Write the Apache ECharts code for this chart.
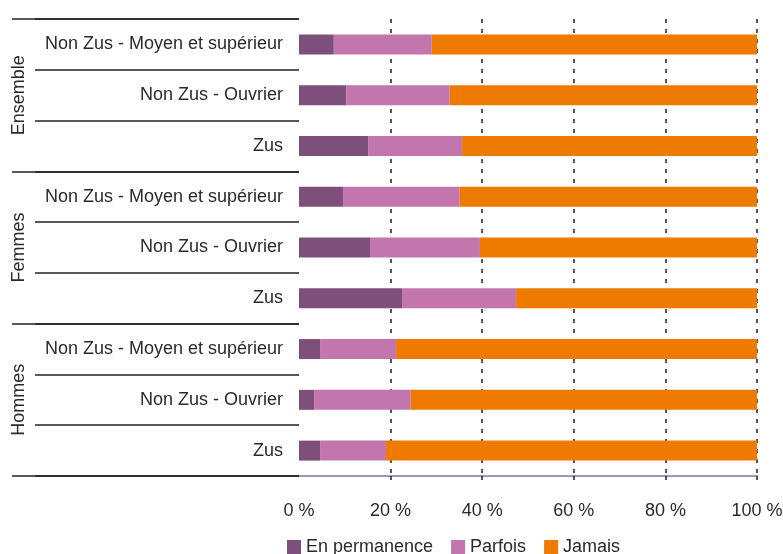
<!DOCTYPE html>
<html>
<head>
<meta charset="utf-8">
<script src="https://cdn.jsdelivr.net/npm/echarts@6/dist/echarts.min.js"></script>
<style>
  html, body { margin: 0; padding: 0; background: #fff; }
  #chart { width: 783px; height: 554px; }
</style>
</head>
<body>
<div id="chart"></div>
<script>
// rows, top to bottom
var rowLabels = [
    "Non Zus - Moyen et supérieur", "Non Zus - Ouvrier", "Zus",
    "Non Zus - Moyen et supérieur", "Non Zus - Ouvrier", "Zus",
    "Non Zus - Moyen et supérieur", "Non Zus - Ouvrier", "Zus"
];
var groupLabels = ["Ensemble", "Femmes", "Hommes"];
var seriesNames = ["En permanence", "Parfois", "Jamais"];

// values in %
var enPermanence = [7.6, 10.3, 15.1, 9.6, 15.5, 22.5, 4.6, 3.3, 4.6];
var parfois = [21.4, 22.6, 20.5, 25.5, 24.0, 24.9, 16.6, 21.1, 14.4];
var jamais = [71.0, 67.1, 64.4, 64.9, 60.5, 52.6, 78.8, 75.6, 81.0];

var xTicks = [20, 40, 60, 80, 100];
var colors = ["#7f4f7b", "#c276ad", "#ee7a00"];

var font = "Liberation Sans";
var textColor = "#2a2a2a";
var dash = { color: "#1e1e1e", width: 1.5, type: [4, 6] };

var chart = echarts.init(document.getElementById("chart"));

var option = {
    animation: false,
    color: colors,
    textStyle: { fontFamily: font },
    grid: {
        left: 299, right: 26, top: 19, bottom: 78,
        containLabel: false,
        outerBoundsMode: "none"
    },
    legend: {
        data: seriesNames,
        left: 282,
        top: 533,
        icon: "rect",
        itemWidth: 14,
        itemHeight: 14,
        itemGap: 18,
        textStyle: { fontSize: 18, color: textColor, fontFamily: font }
    },
    xAxis: {
        type: "value",
        min: 0,
        max: 100,
        interval: 20,
        axisLine: { show: true, lineStyle: { color: "#a292c6", width: 2 } },
        axisTick: { show: true, length: 8, customValues: xTicks, lineStyle: dash },
        axisLabel: {
            margin: 26,
            fontSize: 18,
            color: textColor,
            fontFamily: font,
            formatter: "{value} %"
        },
        splitLine: { show: true, lineStyle: dash }
    },
    yAxis: [
        {
            type: "category",
            inverse: true,
            data: rowLabels,
            axisLine: { show: false },
            axisTick: { show: true, length: 264, lineStyle: { color: "#222", width: 1.6 } },
            axisLabel: { margin: 16, fontSize: 18, color: textColor, fontFamily: font },
            splitLine: { show: false }
        },
        {
            type: "category",
            inverse: true,
            position: "left",
            data: groupLabels,
            axisLine: { show: false },
            axisTick: { show: true, length: 287, lineStyle: { color: "#222", width: 1.6 } },
            axisLabel: { rotate: 90, margin: 271, fontSize: 18, color: textColor, fontFamily: font },
            splitLine: { show: false }
        }
    ],
    series: [
        { name: seriesNames[0], type: "bar", stack: "total", barWidth: 20, data: enPermanence },
        { name: seriesNames[1], type: "bar", stack: "total", barWidth: 20, data: parfois },
        { name: seriesNames[2], type: "bar", stack: "total", barWidth: 20, data: jamais }
    ]
};

chart.setOption(option);
</script>
</body>
</html>
